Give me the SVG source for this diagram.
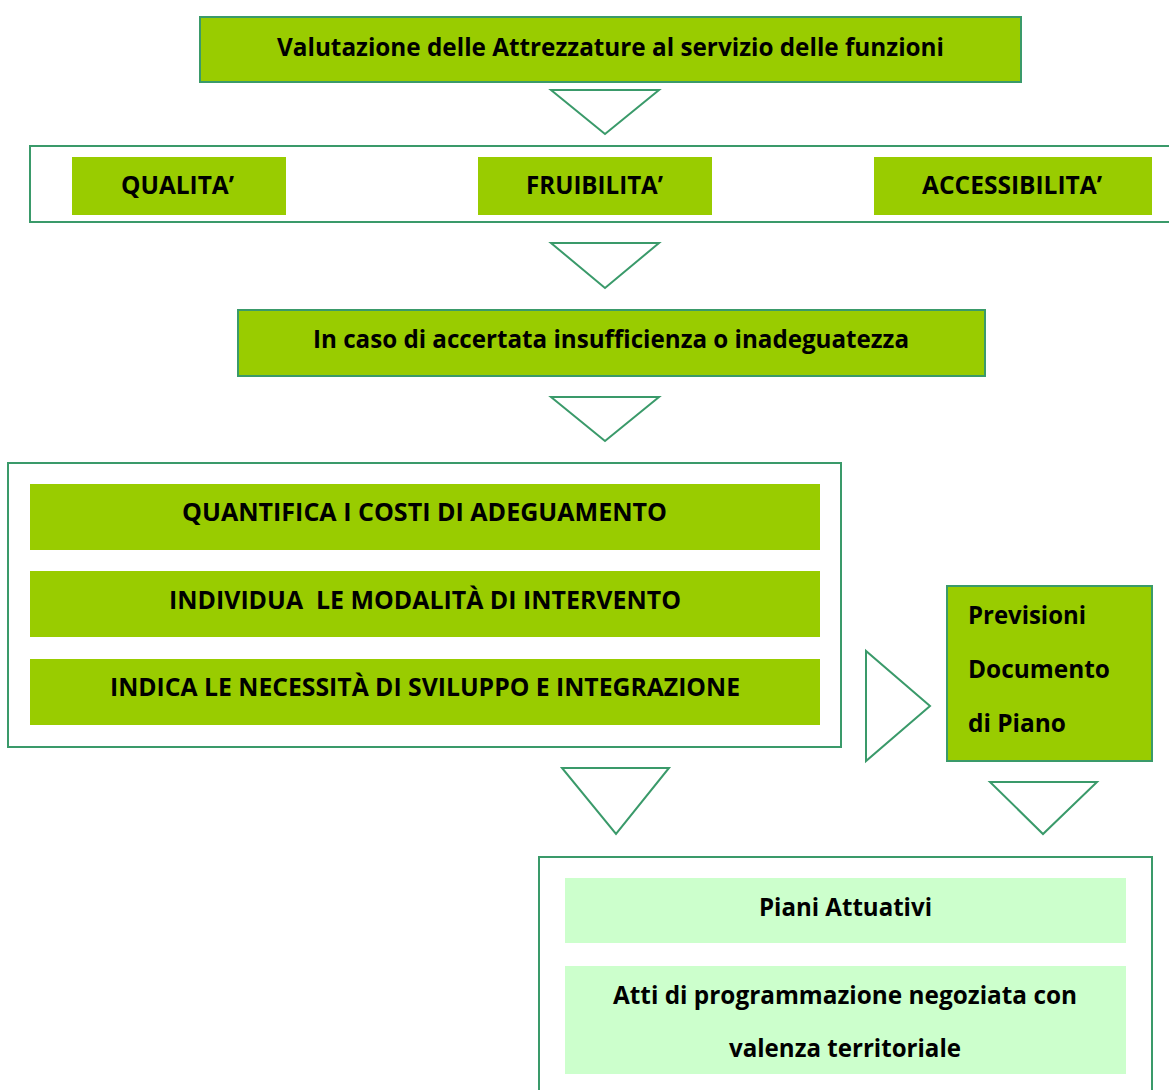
<svg xmlns="http://www.w3.org/2000/svg" width="1169" height="1090" viewBox="0 0 1169 1090">
<style>
.box{fill:#99CC00;stroke:#3A9A6A;stroke-width:2}
.bar{fill:#99CC00}
.lbar{fill:#CCFFCC}
.frame{fill:#FFFFFF;stroke:#3A9A6A;stroke-width:2}
.tri{fill:#FFFFFF;stroke:#3A9A6A;stroke-width:2;stroke-linejoin:miter}
text{font-family:"Open Sans","Liberation Sans",sans-serif;font-weight:700;font-size:25px;fill:#000}
</style>
<rect width="1169" height="1090" fill="#FFFFFF"/>
<g id="n-valutazione">
<rect class="box" x="200" y="17" width="821" height="65"/>
<text x="277" y="56" textLength="667" lengthAdjust="spacingAndGlyphs">Valutazione delle Attrezzature al servizio delle funzioni</text>
</g>
<g id="n-criteri">
<rect class="frame" x="30" y="146" width="1150" height="76"/>
</g>
<g id="n-qualita">
<rect class="bar" x="72" y="157" width="214" height="58"/>
<text x="121" y="194" textLength="113" lengthAdjust="spacingAndGlyphs">QUALITA’</text>
</g>
<g id="n-fruibilita">
<rect class="bar" x="478" y="157" width="234" height="58"/>
<text x="526" y="194" textLength="137" lengthAdjust="spacingAndGlyphs">FRUIBILITA’</text>
</g>
<g id="n-accessibilita">
<rect class="bar" x="874" y="157" width="278" height="58"/>
<text x="922" y="194" textLength="180" lengthAdjust="spacingAndGlyphs">ACCESSIBILITA’</text>
</g>
<g id="n-insufficienza">
<rect class="box" x="238" y="310" width="747" height="66"/>
<text x="313" y="348" textLength="596" lengthAdjust="spacingAndGlyphs">In caso di accertata insufficienza o inadeguatezza</text>
</g>
<g id="n-azioni">
<rect class="frame" x="8" y="463" width="833" height="284"/>
</g>
<g id="n-quantifica">
<rect class="bar" x="30" y="484" width="790" height="66"/>
<text x="182" y="521" textLength="485" lengthAdjust="spacingAndGlyphs">QUANTIFICA I COSTI DI ADEGUAMENTO</text>
</g>
<g id="n-individua">
<rect class="bar" x="30" y="571" width="790" height="66"/>
<text x="169" y="609" textLength="512" lengthAdjust="spacingAndGlyphs" xml:space="preserve">INDIVIDUA  LE MODALITÀ DI INTERVENTO</text>
</g>
<g id="n-indica">
<rect class="bar" x="30" y="659" width="790" height="66"/>
<text x="110" y="696" textLength="630" lengthAdjust="spacingAndGlyphs">INDICA LE NECESSITÀ DI SVILUPPO E INTEGRAZIONE</text>
</g>
<g id="n-previsioni">
<rect class="box" x="947" y="586" width="205" height="175"/>
<text x="968" y="624" textLength="118" lengthAdjust="spacingAndGlyphs">Previsioni</text>
<text x="968" y="678" textLength="142" lengthAdjust="spacingAndGlyphs">Documento</text>
<text x="968" y="732" textLength="98" lengthAdjust="spacingAndGlyphs">di Piano</text>
</g>
<g id="n-strumenti">
<rect class="frame" x="539" y="857" width="613" height="250"/>
</g>
<g id="n-piani">
<rect class="lbar" x="565" y="878" width="561" height="65"/>
<text x="759" y="916" textLength="173" lengthAdjust="spacingAndGlyphs">Piani Attuativi</text>
</g>
<g id="n-atti">
<rect class="lbar" x="565" y="966" width="561" height="108"/>
<text x="613" y="1004" textLength="464" lengthAdjust="spacingAndGlyphs">Atti di programmazione negoziata con</text>
<text x="729" y="1057" textLength="232" lengthAdjust="spacingAndGlyphs">valenza territoriale</text>
</g>
<g id="connectors">
<polygon class="tri" points="551,90 659,90 605,134"/>
<polygon class="tri" points="551,243 659,243 605,288"/>
<polygon class="tri" points="551,397 659,397 605,441"/>
<polygon class="tri" points="866,651 866,761 930,706"/>
<polygon class="tri" points="562,768 669,768 616,834"/>
<polygon class="tri" points="990,782 1097,782 1043,834"/>
</g>
</svg>
